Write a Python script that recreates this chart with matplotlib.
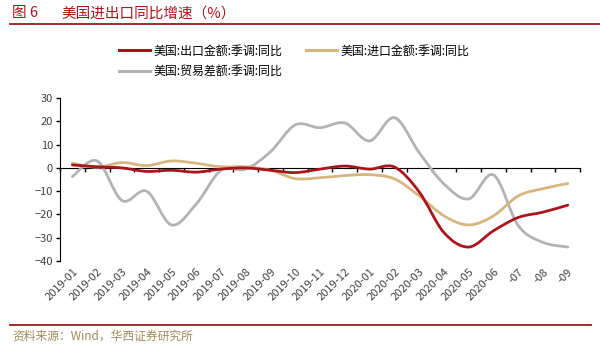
import matplotlib
matplotlib.use("Agg")
import matplotlib.pyplot as plt
from matplotlib.path import Path
from matplotlib.patches import PathPatch
from matplotlib.lines import Line2D
import numpy as np

plt.rcParams['font.family'] = ['Noto Sans CJK SC', 'DejaVu Sans']

months = ["2019-01", "2019-02", "2019-03", "2019-04", "2019-05", "2019-06", "2019-07",
          "2019-08", "2019-09", "2019-10", "2019-11", "2019-12", "2020-01", "2020-02",
          "2020-03", "2020-04", "2020-05", "2020-06", "2020-07", "2020-08", "2020-09"]
tick_labels = months[:18] + ["-07", "-08", "-09"]

export_yoy = [1.3, 0.5, 0.0, -1.5, -1.0, -1.8, -0.5, 0.0, -1.0, -2.0, -0.5, 0.8,
              -0.5, 0.4, -10.3, -27.8, -34.0, -27.0, -21.3, -19.0, -16.0]
import_yoy = [2.0, 0.3, 2.3, 1.0, 3.0, 2.0, 0.5, 0.5, -1.0, -4.6, -4.2, -3.3,
              -2.9, -4.7, -12.0, -20.6, -24.5, -20.6, -12.0, -8.9, -6.7]
balance_yoy = [-3.7, 3.0, -14.0, -10.0, -24.5, -15.5, -1.0, -0.5, 7.0, 18.5, 17.3, 19.3,
               11.6, 21.6, 6.6, -6.9, -13.3, -3.0, -24.8, -32.0, -34.0]

labels = ["美国:出口金额:季调:同比", "美国:进口金额:季调:同比", "美国:贸易差额:季调:同比"]
colors = ["#A8151B", "#D6B680", "#B3B3B3"]

fig = plt.figure(figsize=(6.0, 3.48), dpi=100)
ax = fig.add_axes([0.1, 0.25, 0.867, 0.468])

def smooth_path(xs, ys):
    pts = np.column_stack([xs, ys]).astype(float)
    n = len(pts)
    verts = [pts[0]]
    codes = [Path.MOVETO]
    for i in range(n - 1):
        p0 = pts[i - 1] if i > 0 else pts[i]
        p1 = pts[i]
        p2 = pts[i + 1]
        p3 = pts[i + 2] if i + 2 < n else pts[i + 1]
        c1 = p1 + (p2 - p0) / 6.0
        c2 = p2 - (p3 - p1) / 6.0
        verts += [c1, c2, p2]
        codes += [Path.CURVE4] * 3
    return Path(verts, codes)

x = np.arange(len(months))
series = [(balance_yoy, colors[2]), (import_yoy, colors[1]), (export_yoy, colors[0])]
for ys, c in series:
    patch = PathPatch(smooth_path(x, ys), facecolor="none", edgecolor=c, lw=2.0,
                      transform=ax.transData, capstyle="round", joinstyle="round", zorder=3)
    ax.add_patch(patch)

ax.set_xlim(-0.5, len(months) - 0.5)
ax.set_ylim(-40, 30)
ax.set_yticks(np.arange(-40, 31, 10))
ax.tick_params(axis="y", direction="out", length=3, width=1, colors="black",
               labelsize=8, labelcolor="#404040", pad=2)
for s in ["top", "right"]:
    ax.spines[s].set_visible(False)
ax.spines["left"].set_color("black")
ax.spines["bottom"].set_position(("data", 0))
ax.spines["bottom"].set_color("black")
ax.spines["bottom"].set_zorder(2)
ax.set_xticks(np.arange(-0.5, len(months) + 0.5, 1.0))
ax.tick_params(axis="x", direction="out", length=3, width=1, colors="black", labelbottom=False)

sec = ax.secondary_xaxis(0.0)
sec.spines["bottom"].set_visible(False)
sec.set_xticks(x)
sec.set_xticklabels(tick_labels, rotation=45, ha="right", rotation_mode="anchor")
sec.tick_params(axis="x", length=0, labelsize=8, labelcolor="#404040", pad=4)

handles = [Line2D([], [], color=colors[0], lw=2.2),
           Line2D([], [], color=colors[2], lw=2.2),
           Line2D([], [], color=colors[1], lw=2.2)]
leg_labels = [labels[0], labels[2], labels[1]]
fig.legend(handles, leg_labels, ncol=2, loc="upper left", bbox_to_anchor=(0.198, 0.872),
           frameon=False, fontsize=8.6, handlelength=2.6, handletextpad=0.3,
           columnspacing=2.0, labelspacing=0.6, borderaxespad=0, borderpad=0)

fig.text(0.02, 0.962, "图 6", fontsize=10.5, color="#A8151B", va="center", ha="left")
fig.text(0.103, 0.962, "美国进出口同比增速（%）", fontsize=10.5, color="#A8151B",
         va="center", ha="left")
fig.add_artist(Line2D([0.017, 1.0], [0.932, 0.932], transform=fig.transFigure,
                      color="#9B1B1B", lw=1.3))
fig.add_artist(Line2D([0.017, 0.985], [0.066, 0.066], transform=fig.transFigure,
                      color="#9B1B1B", lw=1.3))
fig.text(0.02, 0.033, "资料来源：Wind，华西证券研究所", fontsize=8.5, color="#A08A5C",
         va="center", ha="left")

fig.savefig("out.png", dpi=100)
